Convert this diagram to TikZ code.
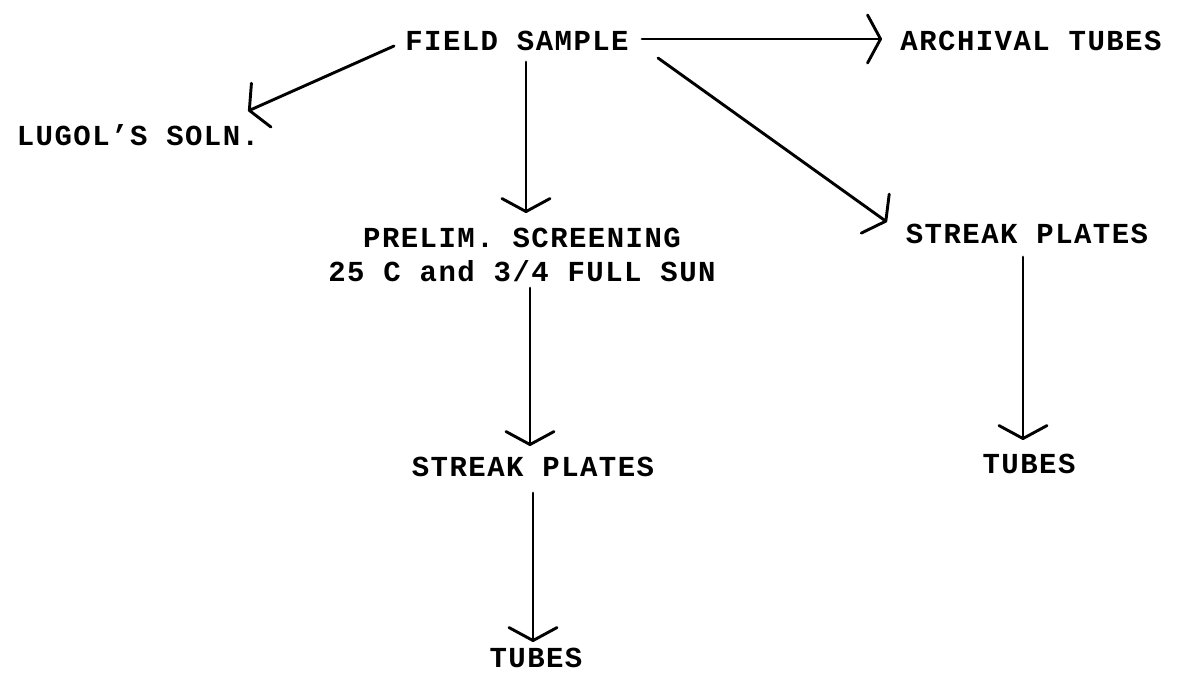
\documentclass[tikz,border=0pt]{standalone}
\usepackage{fontspec}
\usetikzlibrary{arrows.meta,calc}
% typewriter-like lettering with wide character pitch
\newfontfamily\typefont{Liberation Mono}[LetterSpace=5]
\begin{document}
\begin{tikzpicture}[x=1pt,y=-1pt,
  label/.style={font=\typefont\bfseries\fontsize{29}{34}\selectfont,
                inner sep=0pt, align=center},
  arr/.style={line width=2.9pt, line cap=round,
              -{Straight Barb[length=13pt,width=48pt,round]}}]
  % page
  \fill[white] (0,0) rectangle (1179,675);
  \useasboundingbox (0,0) rectangle (1179,675);

  % labels
  \node[label] (fs)   at (517,41)  {FIELD SAMPLE};
  \node[label] (arch) at (1031,41) {ARCHIVAL TUBES};
  \node[label] (lug)  at (138,135) {LUGOL’S SOLN.};
  \node[label] (pre)  at (522,255) {PRELIM. SCREENING\\25 C and 3/4 FULL SUN};
  \node[label] (sp1)  at (533,467) {STREAK PLATES};
  \node[label] (tb1)  at (536,658) {TUBES};
  \node[label] (sp2)  at (1027,234) {STREAK PLATES};
  \node[label] (tb2)  at (1029,464) {TUBES};

  % connectors
  \draw[arr] ($(fs)+(125,-2)$)  -- ($(arch)+(-149,-2)$);
  \draw[arr] ($(fs)+(-123,5)$)  -- ($(lug)+(110,-24)$);
  \draw[arr] ($(fs)+(9,21)$)    -- ($(pre)+(4,-42)$);
  \draw[arr] ($(fs)+(141,17)$)  -- ($(sp2)+(-140,-12)$);
  \draw[arr] ($(pre)+(8,33)$)   -- ($(sp1)+(-3,-21)$);
  \draw[arr] ($(sp1)+(0,26)$)   -- ($(tb1)+(-3,-16)$);
  \draw[arr] ($(sp2)+(-4,23)$)  -- ($(tb2)+(-6,-24)$);
\end{tikzpicture}
\end{document}
